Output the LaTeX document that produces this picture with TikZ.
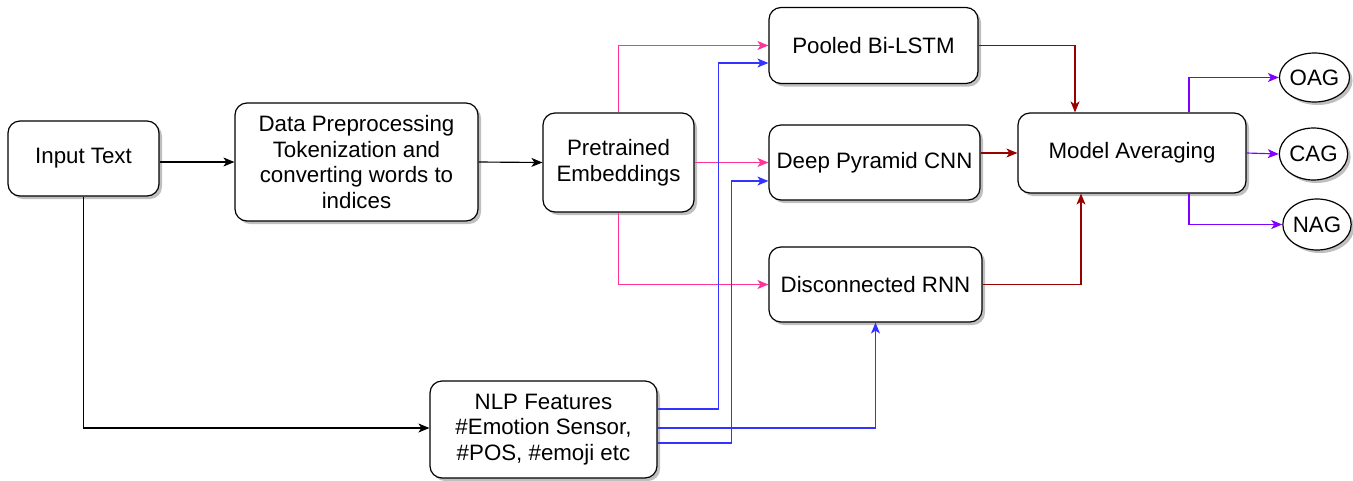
\documentclass[tikz,border=0pt]{standalone}
\usepackage{fontspec}
\setmainfont{Liberation Sans}
\usetikzlibrary{arrows.meta,shapes.geometric,shadows,calc}
\definecolor{pinkc}{HTML}{FF3399}
\definecolor{bluec}{HTML}{3333FF}
\definecolor{redc}{HTML}{990000}
\definecolor{purc}{HTML}{7F00FF}
\tikzset{
  box/.style={draw=black, line width=1.2pt, rounded corners=12pt, fill=white, align=center,
    inner sep=0pt, font=\fontsize{22.3}{25.5}\selectfont,
    drop shadow={shadow xshift=3pt,shadow yshift=-3pt,fill=black,opacity=0.25}},
  oval/.style={draw=black, line width=1.2pt, ellipse, fill=white, inner sep=0pt,
    font=\fontsize{22.3}{25.5}\selectfont,
    drop shadow={shadow xshift=3pt,shadow yshift=-3pt,fill=black,opacity=0.25}},
  conn/.style={line width=1.15pt, -{Stealth[length=11pt,width=9pt,inset=3pt]}},
  blk/.style={conn, draw=black},
  pk/.style={conn, draw=pinkc},
  bl/.style={conn, draw=bluec},
  rd/.style={conn, draw=redc},
  pu/.style={conn, draw=purc},
}
\begin{document}
\begin{tikzpicture}[x=1pt,y=-1pt]
\useasboundingbox (0,0) rectangle (1353,480);
\node[box, minimum width=151pt, minimum height=75pt] (inp) at (83.5,158.5) {Input Text};
\node[box, minimum width=243pt, minimum height=118pt] (pre) at (356.5,162) {Data Preprocessing\\Tokenization and\\converting words to\\indices};
\node[box, minimum width=151pt, minimum height=99pt] (emb) at (618.5,162.5) {Pretrained\\Embeddings};
\node[box, minimum width=209pt, minimum height=76pt] (lstm) at (873.5,45.5) {Pooled Bi-LSTM};
\node[box, minimum width=211pt, minimum height=75pt] (cnn) at (874.5,162.5) {Deep Pyramid CNN};
\node[box, minimum width=213pt, minimum height=75pt] (rnn) at (875.5,284.5) {Disconnected RNN};
\node[box, minimum width=228pt, minimum height=80pt] (ma) at (1132,153) {Model Averaging};
\node[box, minimum width=227pt, minimum height=97pt] (nlp) at (543.5,429.5) {NLP Features\\\#Emotion Sensor,\\\#POS, \#emoji etc};
\node[oval, minimum width=63pt, minimum height=49pt] (oag) at (1314.5,77.5) {OAG};
\node[oval, minimum width=63pt, minimum height=52pt] (cag) at (1313.5,154) {CAG};
\node[oval, minimum width=64pt, minimum height=51pt] (nag) at (1317,224.5) {NAG};

\draw[blk] (inp.east |- pre.west) -- (pre.west);
\draw[blk] (pre.east) -- (emb.west);
\draw[blk] (inp.south) |- ([yshift=1.5pt]nlp.west);

\draw[pk] (emb.north) |- (lstm.west);
\draw[pk] (emb.east) -- (cnn.west);
\draw[pk] (emb.south) |- (rnn.west);

\draw[bl] ([yshift=20.5pt]nlp.east) -| ([xshift=-50pt,yshift=-17.5pt]lstm.west) -- ([yshift=-17.5pt]lstm.west);
\draw[bl] ([yshift=-13.5pt]nlp.east) -| ([xshift=-37pt,yshift=-18.5pt]cnn.west) -- ([yshift=-18.5pt]cnn.west);
\draw[bl] ([yshift=1.5pt]nlp.east) -| (rnn.south);

\draw[rd] (lstm.east) -| ([xshift=-57pt]ma.north);
\draw[rd] (cnn.east |- ma.west) -- (ma.west);
\draw[rd] (rnn.east) -| ([xshift=-51pt]ma.south);

\draw[pu] ([xshift=57pt]ma.north) |- (oag.west);
\draw[pu] (ma.east) -- (cag.west);
\draw[pu] ([xshift=57pt]ma.south) |- (nag.west);
\end{tikzpicture}
\end{document}
